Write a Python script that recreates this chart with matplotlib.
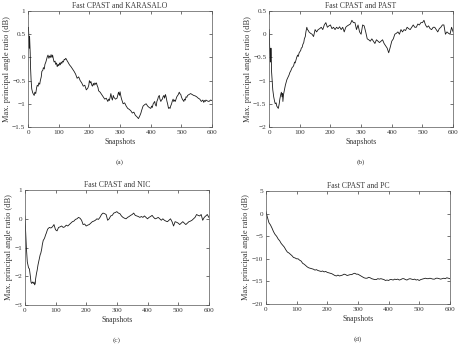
import matplotlib.pyplot as plt

plt.rcParams['font.family'] = ['Liberation Serif', 'DejaVu Serif']

# (snapshot, dB) pairs
# (a) Fast CPAST and KARASALO
pts_a = [(0, 0.58), (1, 0.65), (2, 0.55), (3, 0.35), (4, 0.2), (5, 0.45), (6, 0.3), (7, 0.1),
         (8, -0.2), (10, -0.5), (12, -0.68), (15, -0.76), (18, -0.8), (20, -0.82), (22, -0.75),
         (25, -0.78), (28, -0.65), (30, -0.6), (33, -0.62), (35, -0.55), (38, -0.58), (40, -0.5),
         (43, -0.42), (45, -0.3), (48, -0.28), (50, -0.22), (53, -0.25), (55, -0.15), (58, -0.1),
         (60, -0.05), (63, 0.02), (65, 0.05), (68, -0.02), (70, 0.03), (73, 0.0), (75, 0.06),
         (78, 0.0), (80, 0.05), (83, -0.05), (85, -0.1), (88, -0.08), (90, -0.15), (93, -0.12),
         (95, -0.2), (98, -0.15), (100, -0.18), (103, -0.12), (105, -0.16), (108, -0.1),
         (110, -0.13), (113, -0.08), (115, -0.1), (118, -0.04), (120, -0.05), (123, -0.02),
         (125, -0.04), (128, -0.08), (130, -0.1), (135, -0.16), (140, -0.2), (145, -0.25),
         (150, -0.3), (155, -0.36), (160, -0.45), (165, -0.42), (170, -0.5), (175, -0.55),
         (180, -0.62), (185, -0.6), (190, -0.7), (195, -0.66), (198, -0.6), (200, -0.5),
         (203, -0.55), (205, -0.52), (208, -0.6), (210, -0.62), (213, -0.56), (215, -0.6),
         (218, -0.55), (220, -0.58), (223, -0.55), (225, -0.6), (228, -0.65), (230, -0.72),
         (235, -0.75), (240, -0.8), (245, -0.85), (250, -0.9), (255, -0.88), (260, -0.95),
         (263, -0.9), (265, -0.93), (268, -0.85), (270, -0.78), (273, -0.88), (275, -0.92),
         (278, -0.82), (280, -0.86), (285, -0.9), (290, -0.88), (293, -0.8), (295, -0.75),
         (298, -0.82), (300, -0.74), (303, -0.85), (305, -0.9), (310, -1.0), (315, -0.98),
         (320, -1.05), (325, -1.1), (330, -1.12), (335, -1.15), (340, -1.2), (345, -1.18),
         (350, -1.25), (355, -1.28), (360, -1.32), (363, -1.28), (365, -1.25), (368, -1.2),
         (370, -1.15), (375, -1.05), (380, -1.02), (385, -1.0), (390, -1.05), (395, -1.08),
         (400, -1.1), (403, -1.05), (405, -1.08), (408, -1.0), (410, -0.98), (413, -0.95),
         (415, -1.02), (418, -1.05), (420, -0.95), (423, -0.9), (425, -0.85), (428, -0.82),
         (430, -0.9), (433, -0.95), (435, -0.92), (438, -0.9), (440, -0.85), (443, -0.82),
         (445, -0.88), (448, -0.8), (450, -0.85), (453, -0.95), (455, -1.0), (458, -1.1),
         (460, -1.08), (463, -1.1), (465, -1.05), (468, -1.0), (470, -0.95), (473, -0.9),
         (475, -0.95), (478, -0.92), (480, -0.95), (485, -0.85), (490, -0.8), (493, -0.75),
         (495, -0.78), (498, -0.8), (500, -0.85), (503, -0.9), (505, -0.92), (508, -0.95),
         (510, -0.9), (513, -0.92), (515, -0.85), (518, -0.86), (520, -0.82), (525, -0.8),
         (530, -0.78), (535, -0.8), (540, -0.82), (545, -0.83), (550, -0.85), (555, -0.88),
         (560, -0.9), (565, -0.95), (570, -0.92), (573, -0.97), (575, -0.93), (578, -0.95),
         (580, -0.92), (585, -0.94), (590, -0.95), (595, -0.92), (600, -0.93)]

# (b) Fast CPAST and PAST
pts_b = [(0, 0.1), (2, -0.3), (4, -0.6), (5, -0.5), (6, -0.3), (7, -0.45), (8, -0.8), (10, -1.0),
         (12, -1.2), (15, -1.35), (18, -1.45), (20, -1.5), (23, -1.48), (25, -1.55), (28, -1.58),
         (30, -1.6), (33, -1.5), (35, -1.4), (38, -1.3), (40, -1.25), (42, -1.35), (44, -1.28),
         (45, -1.45), (47, -1.3), (50, -1.2), (53, -1.1), (55, -1.05), (58, -0.98), (60, -0.95),
         (63, -0.9), (65, -0.88), (68, -0.82), (70, -0.8), (73, -0.75), (75, -0.72), (78, -0.7),
         (80, -0.68), (83, -0.6), (85, -0.62), (88, -0.55), (90, -0.5), (93, -0.45), (95, -0.48),
         (98, -0.4), (100, -0.38), (103, -0.35), (105, -0.3), (108, -0.28), (110, -0.22),
         (113, -0.18), (115, -0.1), (118, -0.05), (120, 0.05), (123, 0.15), (125, 0.1),
         (128, 0.08), (130, 0.05), (135, 0.02), (140, 0.0), (145, -0.05), (150, 0.1), (155, 0.05),
         (160, 0.1), (165, 0.12), (170, 0.15), (175, 0.1), (180, 0.2), (185, 0.25), (190, 0.15),
         (195, 0.18), (200, 0.2), (205, 0.12), (210, 0.15), (215, 0.1), (220, 0.15), (225, 0.12),
         (230, 0.16), (235, 0.1), (240, 0.15), (245, 0.05), (250, 0.15), (255, 0.18), (260, 0.2),
         (265, 0.22), (270, 0.3), (275, 0.25), (280, 0.25), (285, 0.1), (290, 0.2), (295, 0.05),
         (300, 0.0), (305, 0.2), (310, 0.18), (315, 0.05), (320, -0.1), (325, -0.12),
         (330, -0.15), (335, -0.1), (340, -0.15), (345, -0.2), (350, -0.12), (355, -0.15),
         (360, -0.18), (365, -0.15), (370, -0.12), (375, -0.2), (380, -0.25), (385, -0.3),
         (390, -0.4), (395, -0.28), (400, -0.15), (405, -0.1), (410, 0.0), (415, 0.02),
         (420, 0.05), (425, 0.0), (430, 0.1), (435, 0.05), (440, 0.1), (445, 0.08), (450, 0.15),
         (455, 0.12), (460, 0.1), (465, 0.15), (470, 0.2), (475, 0.15), (480, 0.15), (485, 0.22),
         (490, 0.2), (495, 0.25), (500, 0.25), (505, 0.3), (510, 0.2), (515, 0.15), (520, 0.18),
         (525, 0.12), (530, 0.1), (535, 0.15), (540, 0.15), (545, 0.1), (550, 0.05), (555, 0.12),
         (560, 0.15), (565, 0.2), (570, 0.2), (575, 0.0), (580, 0.05), (585, 0.02), (590, 0.0),
         (595, 0.15), (600, 0.05)]

# (c) Fast CPAST and NIC
pts_c = [(0, 0.1), (2, -0.3), (4, -0.8), (5, -1.0), (7, -1.3), (8, -1.5), (10, -1.6), (12, -1.7),
         (15, -1.75), (18, -2.0), (20, -2.2), (22, -2.25), (25, -2.2), (28, -2.25), (30, -2.2),
         (32, -2.3), (34, -2.25), (35, -2.1), (38, -1.9), (40, -1.8), (43, -1.6), (45, -1.5),
         (48, -1.35), (50, -1.25), (52, -1.2), (55, -1.05), (57, -0.9), (60, -0.75), (63, -0.7),
         (65, -0.65), (68, -0.55), (70, -0.5), (73, -0.4), (75, -0.35), (78, -0.32), (80, -0.3),
         (85, -0.32), (90, -0.28), (95, -0.2), (100, -0.38), (105, -0.42), (110, -0.3),
         (115, -0.28), (120, -0.25), (125, -0.3), (130, -0.28), (135, -0.22), (140, -0.25),
         (145, -0.2), (150, -0.15), (155, -0.1), (160, -0.08), (165, -0.02), (170, 0.0),
         (175, 0.05), (180, 0.02), (185, -0.05), (190, -0.2), (195, -0.18), (200, -0.25),
         (205, -0.22), (210, -0.2), (215, -0.15), (220, -0.1), (225, -0.08), (230, -0.05),
         (235, 0.0), (240, -0.02), (245, 0.05), (250, 0.15), (255, 0.2), (260, 0.18), (265, 0.15),
         (270, -0.05), (275, 0.0), (280, 0.1), (285, 0.12), (290, 0.2), (295, 0.22), (300, 0.25),
         (305, 0.2), (310, 0.18), (315, 0.1), (320, 0.05), (325, 0.02), (330, 0.0), (335, 0.05),
         (340, 0.08), (345, 0.12), (350, 0.15), (355, 0.2), (360, 0.12), (365, 0.1), (370, 0.08),
         (375, 0.05), (380, 0.08), (385, 0.05), (390, 0.1), (395, 0.05), (400, 0.0), (405, 0.05),
         (410, 0.08), (415, 0.12), (420, 0.05), (425, 0.0), (430, 0.02), (435, 0.05), (440, 0.0),
         (445, -0.05), (450, 0.0), (455, -0.05), (460, -0.08), (465, -0.1), (470, -0.05),
         (475, 0.0), (480, -0.1), (485, -0.25), (490, -0.1), (495, -0.12), (500, -0.15),
         (505, -0.2), (510, -0.15), (515, -0.1), (520, -0.15), (525, -0.2), (530, -0.15),
         (535, -0.1), (540, -0.08), (545, -0.05), (550, 0.0), (555, 0.05), (560, 0.15),
         (565, 0.12), (570, 0.1), (575, 0.15), (580, -0.05), (585, 0.05), (590, 0.1), (595, 0.15),
         (600, 0.05)]

# (d) Fast CPAST and PC
pts_d = [(0, 0.5), (5, -0.8), (10, -2.0), (15, -2.5), (20, -3.2), (25, -4.0), (30, -4.6),
         (35, -5.0), (40, -5.6), (45, -6.0), (50, -6.6), (55, -7.0), (60, -7.4), (65, -8.0),
         (70, -8.5), (75, -8.7), (80, -9.0), (85, -9.3), (90, -9.7), (95, -9.8), (100, -10.0),
         (105, -10.0), (110, -10.3), (115, -10.5), (120, -11.0), (125, -11.2), (130, -11.5),
         (135, -11.8), (140, -12.0), (145, -12.1), (150, -12.2), (155, -12.3), (160, -12.5),
         (165, -12.4), (170, -12.6), (175, -12.7), (180, -12.8), (185, -12.7), (190, -12.9),
         (195, -12.8), (200, -13.0), (205, -13.1), (210, -13.2), (215, -13.3), (220, -13.5),
         (225, -13.7), (230, -13.8), (235, -13.6), (240, -13.8), (245, -13.7), (250, -13.6),
         (255, -13.4), (260, -13.5), (265, -13.7), (270, -13.6), (275, -13.5), (280, -13.5),
         (285, -13.3), (290, -13.2), (295, -13.4), (300, -13.4), (305, -13.6), (310, -13.8),
         (315, -14.0), (320, -14.2), (325, -14.3), (330, -14.3), (335, -14.1), (340, -14.2),
         (345, -14.4), (350, -14.5), (355, -14.6), (360, -14.6), (365, -14.4), (370, -14.5),
         (375, -14.4), (380, -14.5), (385, -14.6), (390, -14.8), (395, -14.7), (400, -14.8),
         (405, -14.6), (410, -14.6), (415, -14.7), (420, -14.5), (425, -14.6), (430, -14.5),
         (435, -14.7), (440, -14.6), (445, -14.4), (450, -14.4), (455, -14.6), (460, -14.7),
         (465, -14.5), (470, -14.4), (475, -14.5), (480, -14.6), (485, -14.5), (490, -14.7),
         (495, -14.6), (500, -14.8), (505, -14.6), (510, -14.5), (515, -14.4), (520, -14.3),
         (525, -14.4), (530, -14.4), (535, -14.3), (540, -14.4), (545, -14.5), (550, -14.5),
         (555, -14.3), (560, -14.3), (565, -14.4), (570, -14.5), (575, -14.4), (580, -14.3),
         (585, -14.4), (590, -14.2), (595, -14.3), (600, -14.4)]

panels = [
    ('Fast CPAST and KARASALO', pts_a, (-1.5, 1), [-1.5, -1, -0.5, 0, 0.5, 1],
     ['−1.5', '−1', '−0.5', '0', '0.5', '1'], '(a)', [0.061, 0.632, 0.400, 0.336]),
    ('Fast CPAST and PAST', pts_b, (-2, 0.5), [-2, -1.5, -1, -0.5, 0, 0.5],
     ['−2', '−1.5', '−1', '−0.5', '0', '0.5'], '(b)', [0.585, 0.632, 0.400, 0.336]),
    ('Fast CPAST and NIC', pts_c, (-3, 1), [-3, -2, -1, 0, 1],
     ['−3', '−2', '−1', '0', '1'], '(c)', [0.054, 0.116, 0.400, 0.333]),
    ('Fast CPAST and PC', pts_d, (-20, 5), [-20, -15, -10, -5, 0, 5],
     ['−20', '−15', '−10', '−5', '0', '5'], '(d)', [0.578, 0.119, 0.400, 0.327]),
]

fig = plt.figure(figsize=(4.6, 3.45), dpi=100)
tc = '#3a3a3a'
for title, pts, ylim, yt, ytl, tag, pos in panels:
    ax = fig.add_axes(pos)
    x = [p[0] for p in pts]
    y = [p[1] for p in pts]
    ax.plot(x, y, color='#1a1a1a', lw=0.6)
    ax.set_xlim(0, 600)
    ax.set_ylim(*ylim)
    ax.set_xticks([0, 100, 200, 300, 400, 500, 600])
    ax.set_yticks(yt)
    ax.set_yticklabels(ytl)
    ax.tick_params(direction='in', length=2, width=0.5, labelsize=5.2, colors=tc,
                   top=True, right=True, pad=2)
    for s in ax.spines.values():
        s.set_linewidth(0.5)
        s.set_color('#555555')
    ax.set_title(title, fontsize=5.6, color=tc, pad=2)
    ax.set_xlabel('Snapshots', fontsize=5.6, color=tc, labelpad=2)
    ax.set_ylabel('Max. principal angle ratio (dB)', fontsize=6, color=tc, labelpad=1)
    fig.text(pos[0] + pos[2] / 2, pos[1] - 0.105, tag, fontsize=5.2, color=tc, ha='center')

fig.savefig('out.png', dpi=100)
